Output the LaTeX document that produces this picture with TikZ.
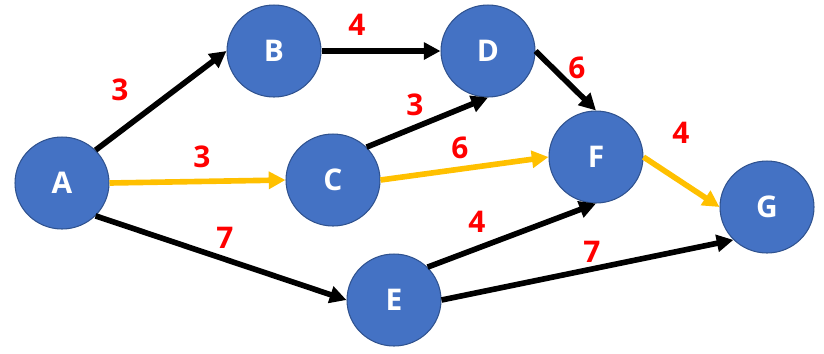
\documentclass[tikz,border=0pt]{standalone}
\usepackage{fontspec}
\setmainfont{Open Sans}
\usetikzlibrary{
    arrows.meta,
    shapes.geometric
}
\definecolor{NodeBlue}{RGB}{68,114,196}
\definecolor{NodeRim}{RGB}{47,82,143}
\definecolor{PathYellow}{RGB}{255,192,0}

\begin{document}
\begin{tikzpicture}[
    x=0.02cm,
    y=-0.02cm,
    >={Triangle[length=9.5pt,width=9.5pt]},
    vertex/.style={
        ellipse,
        draw=NodeRim,
        line width=0.6pt,
        fill=NodeBlue,
        minimum width=1.88cm,
        minimum height=1.84cm,
        inner sep=0pt,
        text=white,
        font=\fontsize{17}{17}\selectfont\bfseries
    },
    edge/.style={->, line width=3.2pt},
    critical/.style={edge, color=PathYellow},
    weight/.style={
        text=red,
        inner sep=0pt,
        font=\fontsize{17}{17}\selectfont\bfseries
    }
]

\useasboundingbox (0,0) rectangle (824,353);

% vertices
\node[vertex] (A) at (62,183) {A};
\node[vertex] (B) at (274,51) {B};
\node[vertex] (C) at (333,180) {C};
\node[vertex] (D) at (488,51) {D};
\node[vertex] (E) at (394,300) {E};
\node[vertex] (F) at (596,157) {F};
\node[vertex] (G) at (767,207) {G};

% arcs
\draw[edge] (A.north east) -- (B.west);
\draw[critical] (A.east) -- (C.west);
\draw[edge] (A.south east) -- (E.west);
\draw[edge] (B.east) -- (D.west);
\draw[edge] (C.north east) -- (D.south);
\draw[critical] (C.east) -- (F.west);
\draw[edge] (D.east) -- (F.north);
\draw[critical] (F.east) -- (G.west);
\draw[edge] (E.north east) -- (F.south);
\draw[edge] (E.east) -- (G.south west);

% weights
\node[weight] (wAB) at (120,90) {3};
\node[weight] (wAC) at (202,157) {3};
\node[weight] (wAE) at (225,238) {7};
\node[weight] (wBD) at (357,25) {4};
\node[weight] (wCD) at (415,105) {3};
\node[weight] (wCF) at (460,148) {6};
\node[weight] (wDF) at (577,68) {6};
\node[weight] (wFG) at (681,133) {4};
\node[weight] (wEF) at (477,222) {4};
\node[weight] (wEG) at (592,252) {7};

\end{tikzpicture}
\end{document}
